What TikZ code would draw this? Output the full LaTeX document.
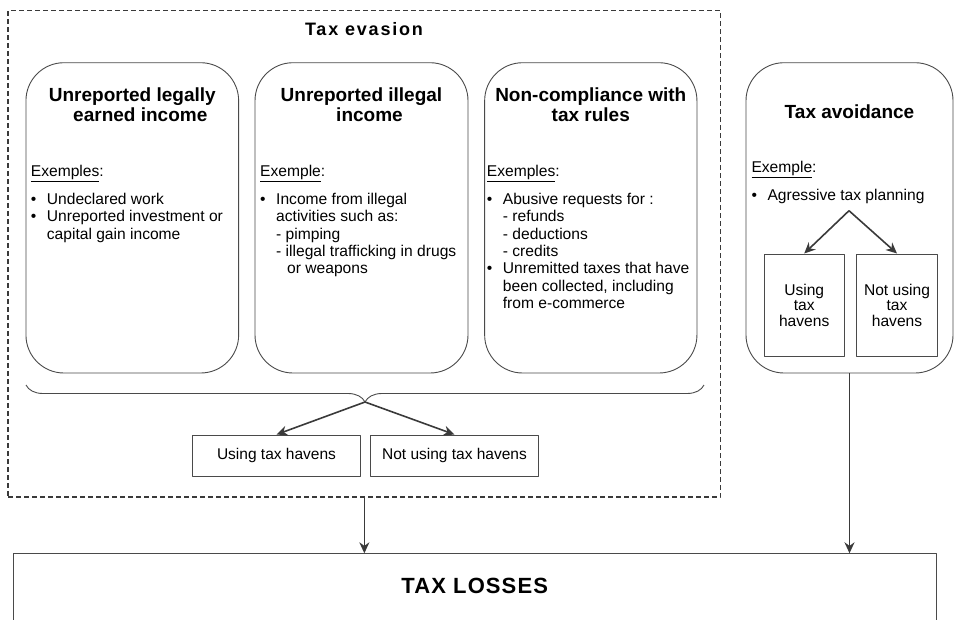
\documentclass[tikz,border=0pt]{standalone}
\usepackage{fontspec}
\setmainfont{Liberation Sans}
\usetikzlibrary{arrows.meta,decorations.pathreplacing}
\definecolor{linegray}{HTML}{4A4A4A}
\definecolor{arrowgray}{HTML}{3A3A3A}
\newcommand\bul{\hspace*{16pt}\llap{\textbullet\hspace{10.5pt}}}
\newcommand\indt[1][16pt]{\hspace*{#1}}
\tikzset{
  roundbox/.style={draw=linegray, line width=0.9pt, rounded corners=38pt, minimum height=310.3pt, inner sep=0pt},
  plainbox/.style={draw=linegray, line width=0.9pt, inner sep=0pt},
  dashbox/.style={draw=arrowgray, line width=1.3pt, dash pattern=on 5pt off 3pt, inner sep=0pt},
  title/.style={font=\fontsize{19}{20}\selectfont\bfseries, align=center, anchor=base},
  body/.style={font=\fontsize{15.6}{17.4}\selectfont, align=left, anchor=base west, inner sep=0pt},
  arr/.style={->, draw=arrowgray, line width=1.6pt},
}
\begin{document}
\begin{tikzpicture}[x=1pt, y=-1pt, >={Stealth[length=11pt,width=10pt]}, line join=round]
	\useasboundingbox (0,0) rectangle (955,619);
	\clip (0,0) rectangle (955,619);
	% tax evasion (base anchors sit on the last line)
	\node[dashbox, minimum width=712.7pt, minimum height=486.3pt] (evasion) at (364.35,253.85) {};
	\node[font=\fontsize{18}{20}\selectfont\bfseries\addfontfeature{LetterSpace=10}, anchor=base] (evasionT) at (364,35.7) {Tax evasion};
	\node[roundbox, minimum width=212.7pt] (legal) at (132.3,217.85) {};
	\node[roundbox, minimum width=213pt] (illegal) at (361.5,217.85) {};
	\node[roundbox, minimum width=212.3pt] (rules) at (590.8,217.85) {};
	\node[title] (legalT) at (132.3,121.7) {Unreported legally\\ \hspace*{16pt}earned income};
	\node[title] (illegalT) at (361.5,121.7) {Unreported illegal\\ \hspace*{16pt}income};
	\node[title] (rulesT) at (590.8,121.7) {Non-compliance with\\ tax rules};
	\node[body] (legalEx) at (30.7,239.1) {\underline{Exemples}:\\[10.2pt]
		\bul Undeclared work\\ \bul Unreported investment or\\ \indt capital gain income};
	\node[body] (illegalEx) at (260,273.9) {\underline{Exemple}:\\[10.2pt]
		\bul Income from illegal\\ \indt activities such as:\\ \indt - pimping\\
		\indt - illegal trafficking in drugs\\ \indt[22.7pt] or weapons};
	\node[body] (rulesEx) at (486.7,308.7) {\underline{Exemples}:\\[10.2pt]
		\bul Abusive requests for :\\ \indt - refunds\\ \indt - deductions\\ \indt - credits\\
		\bul Unremitted taxes that have\\ \indt been collected, including\\ \indt from e-commerce};
	\draw[linegray, line width=0.9pt, decorate, decoration={brace, mirror, amplitude=17pt}] (26,385) -- (704,385);
	\coordinate (fork) at (365,402);
	\node[plainbox, minimum width=168.4pt, minimum height=41.7pt, font=\fontsize{15.5}{17}\selectfont] (usingA) at (276.5,455.8) {Using tax havens};
	\node[plainbox, minimum width=168.4pt, minimum height=41.7pt, font=\fontsize{15.5}{17}\selectfont] (notusingA) at (454.5,455.8) {Not using tax havens};
	\draw[arr] (fork) -- (usingA.north);
	\draw[arr] (fork) -- (notusingA.north);
	% tax avoidance
	\node[roundbox, minimum width=207pt] (avoid) at (849.5,217.85) {};
	\node[title] (avoidT) at (849.5,118.3) {Tax avoidance};
	\node[body] (avoidEx) at (751.3,200.5) {\underline{Exemple}:\\[10.8pt] \bul Agressive tax planning};
	\coordinate (planfork) at (849,210.7);
	\node[plainbox, minimum width=80.3pt, minimum height=102.7pt, align=center, font=\fontsize{15.6}{15.8}\selectfont] (usingB) at (804.2,305.3) {Using\\ tax\\ havens};
	\node[plainbox, minimum width=81.4pt, minimum height=102.7pt, align=center, font=\fontsize{15.6}{15.8}\selectfont] (notusingB) at (897,305.3) {Not using\\ tax\\ havens};
	\draw[arr] (planfork) -- (usingB.north);
	\draw[arr] (planfork) -- (notusingB.north);
	% tax losses
	\node[plainbox, minimum width=922.6pt, minimum height=100pt, anchor=north] (losses) at (474.7,553.3) {};
	\node[font=\fontsize{22}{24}\selectfont\bfseries\addfontfeature{LetterSpace=5}, anchor=base] (lossesT) at (474.7,593.3) {TAX LOSSES};
	\draw[arr] (evasion.south) -- (evasion.south |- losses.north);
	\draw[arr] (avoid.south) -- (avoid.south |- losses.north);
\end{tikzpicture}
\end{document}
